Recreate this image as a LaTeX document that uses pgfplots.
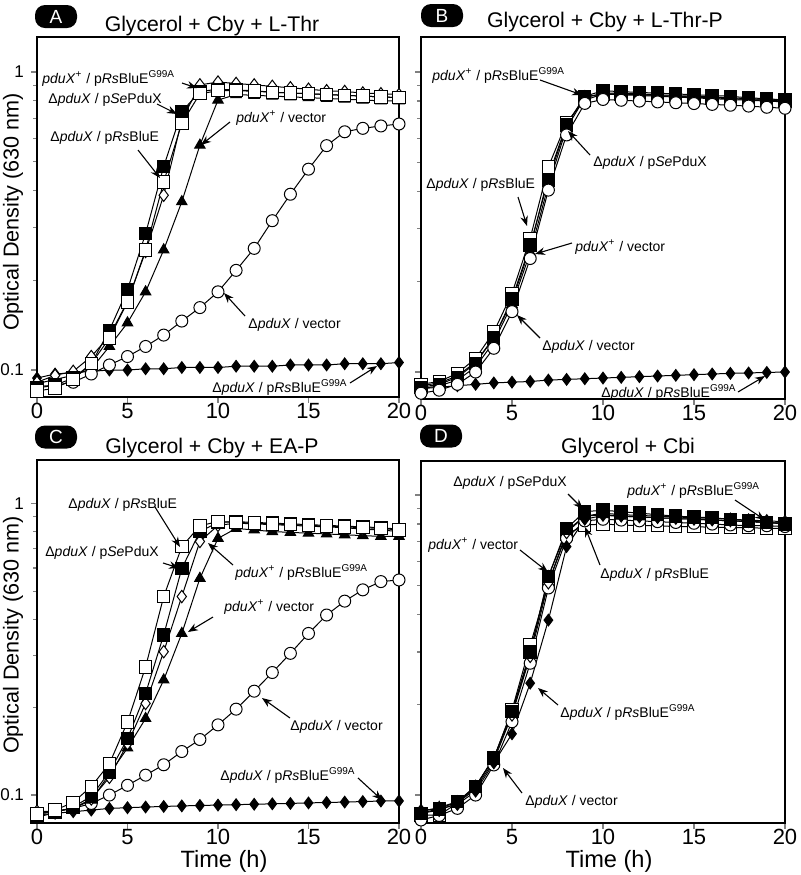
\documentclass[border=0pt]{standalone}
\usepackage{pgfplots}
\usepackage{pgfplotstable}
\pgfplotsset{compat=1.18}
\usepackage{fontspec}
\setmainfont{Liberation Sans}
\usetikzlibrary{arrows.meta}

\newcommand{\dX}{Δ\textit{pduX}}
\newcommand{\pX}{\textit{pduX}\textsuperscript{+}}
\newcommand{\Rs}{p\textit{Rs}BluE}
\newcommand{\RsG}{p\textit{Rs}BluE\textsuperscript{G99A}}
\newcommand{\Se}{p\textit{Se}PduX}

\pgfplotstableread{
t FD OC TR FS OS OD
0 0.094 0.088 0.090 0.087 0.085 0.091
1 0.097 0.089 0.093 0.089 0.087 0.096
2 0.098 0.091 0.096 0.094 0.093 0.099
3 0.099 0.097 0.101 0.105 0.105 0.111
4 0.100 0.104 0.120 0.136 0.128 0.130
5 0.100 0.111 0.144 0.186 0.169 0.170
6 0.101 0.120 0.183 0.287 0.253 0.250
7 0.101 0.131 0.253 0.482 0.428 0.386
8 0.102 0.146 0.367 0.736 0.673 0.690
9 0.102 0.162 0.568 0.860 0.845 0.905
10 0.102 0.183 0.805 0.875 0.865 0.925
11 0.103 0.216 0.840 0.870 0.865 0.915
12 0.103 0.256 0.835 0.865 0.862 0.905
13 0.103 0.317 0.830 0.855 0.855 0.895
14 0.104 0.389 0.825 0.850 0.850 0.885
15 0.104 0.472 0.820 0.845 0.845 0.875
16 0.104 0.566 0.815 0.840 0.840 0.865
17 0.105 0.630 0.810 0.835 0.835 0.860
18 0.105 0.647 0.805 0.830 0.830 0.850
19 0.105 0.659 0.800 0.825 0.825 0.845
20 0.106 0.669 0.800 0.820 0.820 0.840
}\tabA

\pgfplotstableread{
t FD OC TR FS OS OD
0 0.088 0.085 0.088 0.089 0.091 0.090
1 0.089 0.087 0.090 0.091 0.093 0.092
2 0.090 0.091 0.094 0.096 0.099 0.097
3 0.091 0.100 0.104 0.107 0.111 0.108
4 0.092 0.120 0.126 0.130 0.136 0.130
5 0.0925 0.159 0.168 0.175 0.183 0.172
6 0.093 0.239 0.250 0.265 0.279 0.260
7 0.094 0.404 0.420 0.437 0.483 0.450
8 0.0945 0.617 0.650 0.665 0.680 0.670
9 0.095 0.786 0.820 0.830 0.806 0.827
10 0.0955 0.810 0.850 0.866 0.845 0.845
11 0.096 0.805 0.850 0.860 0.845 0.840
12 0.0965 0.800 0.845 0.855 0.840 0.835
13 0.097 0.795 0.840 0.850 0.835 0.830
14 0.0975 0.790 0.835 0.845 0.830 0.825
15 0.098 0.785 0.830 0.840 0.825 0.820
16 0.0985 0.780 0.825 0.835 0.820 0.815
17 0.099 0.775 0.820 0.830 0.815 0.810
18 0.0993 0.770 0.815 0.820 0.810 0.805
19 0.0997 0.763 0.810 0.815 0.805 0.800
20 0.100 0.757 0.805 0.806 0.800 0.795
}\tabB

\pgfplotstableread{
t FD OC TR FS OS OD
0 0.0854 0.086 0.086 0.084 0.086 0.088
1 0.0866 0.088 0.088 0.087 0.0888 0.088
2 0.0877 0.090 0.090 0.091 0.0944 0.090
3 0.0888 0.0936 0.096 0.099 0.107 0.097
4 0.0900 0.100 0.118 0.120 0.128 0.115
5 0.0905 0.108 0.145 0.156 0.178 0.150
6 0.0910 0.117 0.183 0.223 0.275 0.206
7 0.0914 0.127 0.248 0.354 0.479 0.310
8 0.0918 0.141 0.358 0.598 0.710 0.479
9 0.0921 0.155 0.553 0.800 0.837 0.740
10 0.0924 0.174 0.758 0.860 0.866 0.840
11 0.0927 0.197 0.820 0.865 0.860 0.855
12 0.0930 0.227 0.810 0.860 0.855 0.850
13 0.0933 0.263 0.800 0.855 0.850 0.845
14 0.0936 0.306 0.795 0.850 0.845 0.840
15 0.0940 0.358 0.790 0.845 0.840 0.835
16 0.0943 0.414 0.785 0.840 0.835 0.830
17 0.0946 0.462 0.780 0.835 0.830 0.825
18 0.0950 0.505 0.775 0.830 0.825 0.815
19 0.0954 0.539 0.770 0.825 0.820 0.810
20 0.0955 0.546 0.770 0.815 0.810 0.800
}\tabC

\pgfplotstableread{
t FD OC TR FS OS OD
0 0.089 0.0826 0.088 0.087 0.0858 0.087
1 0.090 0.0855 0.091 0.090 0.0858 0.089
2 0.093 0.0903 0.095 0.095 0.094 0.094
3 0.103 0.100 0.107 0.107 0.1066 0.105
4 0.128 0.126 0.133 0.133 0.1324 0.130
5 0.160 0.1755 0.187 0.190 0.192 0.185
6 0.236 0.275 0.296 0.300 0.316 0.290
7 0.383 0.490 0.535 0.535 0.508 0.510
8 0.673 0.717 0.760 0.774 0.740 0.750
9 0.830 0.820 0.850 0.880 0.794 0.850
10 0.855 0.830 0.860 0.890 0.800 0.870
11 0.850 0.825 0.850 0.880 0.795 0.860
12 0.845 0.820 0.845 0.870 0.790 0.855
13 0.840 0.815 0.840 0.860 0.790 0.850
14 0.835 0.810 0.835 0.850 0.785 0.845
15 0.830 0.805 0.830 0.845 0.785 0.840
16 0.825 0.800 0.825 0.840 0.780 0.835
17 0.820 0.795 0.820 0.830 0.780 0.830
18 0.815 0.790 0.815 0.820 0.778 0.825
19 0.810 0.790 0.810 0.810 0.775 0.820
20 0.805 0.785 0.805 0.800 0.774 0.815
}\tabD

\pgfplotsset{
  every axis/.append style={
    scale only axis, xmin=0, xmax=20,
    xtick={0,5,10,15,20}, xticklabels={0,5,10,15,20},
    tick pos=left, tick align=outside,
    major tick length=3pt, minor tick length=2pt,
    axis line style={line width=0.9pt},
    every tick/.append style={line width=0.6pt},
    xticklabel style={font=\fontsize{11}{12}\selectfont, inner sep=0pt},
    yticklabel style={font=\fontsize{8.5}{10}\selectfont},
    clip=false,
  },
  sFD/.style={black, line width=0.5pt, mark=diamond*, mark size=2.9pt, mark options={fill=black, line width=0.5pt}},
  sOD/.style={black, line width=0.5pt, mark=diamond*, mark size=3.1pt, mark options={fill=white, line width=0.5pt}},
  sFS/.style={black, line width=0.5pt, mark=square*, mark size=3.1pt, mark options={fill=black, line width=0.5pt}},
  sOS/.style={black, line width=0.5pt, mark=square*, mark size=3.1pt, mark options={fill=white, line width=0.5pt}},
  sTR/.style={black, line width=0.5pt, mark=triangle*, mark size=3pt, mark options={fill=black, line width=0.5pt}},
  sOC/.style={black, line width=0.5pt, mark=*, mark size=3pt, mark options={fill=white, line width=0.5pt}},
}

\tikzset{
  arr/.style={-{Stealth[length=5pt,width=3.8pt]}, line width=0.55pt, black},
  lab/.style={font=\fontsize{7}{8}\selectfont, anchor=west, inner sep=0pt},
  ttl/.style={font=\fontsize{10.6}{12}\selectfont, anchor=base},
  badge/.style={fill=black, rounded corners=5pt, minimum width=21pt, minimum height=11.5pt, inner sep=0pt, text=white, font=\fontsize{9.5}{10}\selectfont},
  ylab/.style={font=\fontsize{10.8}{12}\selectfont, rotate=90},
  xlab/.style={font=\fontsize{11.8}{13}\selectfont, anchor=base, inner sep=0pt},
}

\begin{document}
\begin{tikzpicture}
\useasboundingbox (0,0) rectangle (400pt,-437.5pt);

% Panel A
\begin{axis}[ymode=log, ytick={0.1,1}, minor ytick={0.09,0.2,0.3,0.4,0.5,0.6,0.7,0.8,0.9},
  at={(18.5pt,-198.5pt)}, anchor=south west, width=181pt, height=180pt,
  ymin=0.0812, ymax=1.31, yticklabels={0.1,1}]
\addplot[sFD] table[x=t,y=FD]{\tabA};
\addplot[sTR] table[x=t,y=TR]{\tabA};
\addplot[sOC] table[x=t,y=OC]{\tabA};
\addplot[sOD] table[x=t,y=OD]{\tabA};
\addplot[sFS] table[x=t,y=FS]{\tabA};
\addplot[sOS] table[x=t,y=OS]{\tabA};
\end{axis}

% Panel B
\begin{axis}[ymode=log, ytick={0.1,1}, minor ytick={0.09,0.2,0.3,0.4,0.5,0.6,0.7,0.8,0.9},
  at={(210.5pt,-199.5pt)}, anchor=south west, width=182pt, height=181pt,
  ymin=0.0813, ymax=1.308, yticklabels={,}]
\addplot[sFD] table[x=t,y=FD]{\tabB};
\addplot[sOD] table[x=t,y=OD]{\tabB};
\addplot[sOS] table[x=t,y=OS]{\tabB};
\addplot[sTR] table[x=t,y=TR]{\tabB};
\addplot[sFS] table[x=t,y=FS]{\tabB};
\addplot[sOC] table[x=t,y=OC]{\tabB};
\end{axis}

% Panel C
\begin{axis}[ymode=log, ytick={0.1,1}, minor ytick={0.09,0.2,0.3,0.4,0.5,0.6,0.7,0.8,0.9},
  at={(18.5pt,-411.5pt)}, anchor=south west, width=181pt, height=181.5pt,
  ymin=0.0802, ymax=1.407, yticklabels={0.1,1}]
\addplot[sFD] table[x=t,y=FD]{\tabC};
\addplot[sOC] table[x=t,y=OC]{\tabC};
\addplot[sTR] table[x=t,y=TR]{\tabC};
\addplot[sOD] table[x=t,y=OD]{\tabC};
\addplot[sFS] table[x=t,y=FS]{\tabC};
\addplot[sOS] table[x=t,y=OS]{\tabC};
\end{axis}

% Panel D
\begin{axis}[ymode=log, ytick={0.1,1}, minor ytick={0.09,0.2,0.3,0.4,0.5,0.6,0.7,0.8,0.9},
  at={(210.5pt,-411.5pt)}, anchor=south west, width=182pt, height=181pt,
  ymin=0.0807, ymax=1.298, yticklabels={,}]
\addplot[sOS] table[x=t,y=OS]{\tabD};
\addplot[sOC] table[x=t,y=OC]{\tabD};
\addplot[sOD] table[x=t,y=OD]{\tabD};
\addplot[sFD] table[x=t,y=FD]{\tabD};
\addplot[sFS] table[x=t,y=FS]{\tabD};
\addplot[sTR] table[x=t,y=TR]{\tabD};
\end{axis}

\begin{scope}[x=0.5pt,y=-0.5pt]
% badges and titles
\node[badge] at (56,16.5) {A};
\node[badge] at (442,15.5) {B};
\node[badge] at (56,437) {C};
\node[badge] at (441,436) {D};
\node[ttl] at (212,31) {Glycerol + Cby + L-Thr};
\node[ttl] at (605,27) {Glycerol + Cby + L-Thr-P};
\node[ttl] at (212,453) {Glycerol + Cby + EA-P};
\node[ttl] at (628,453) {Glycerol + Cbi};
\node[ylab] at (13,212) {Optical Density (630 nm)};
\node[ylab] at (13,635) {Optical Density (630 nm)};
\node[xlab] at (224,867) {Time (h)};
\node[xlab] at (609,867) {Time (h)};

% Panel A labels
\node[lab] at (42,78) {\pX\ / \RsG};
\draw[arr] (182,83) -- (197,88);
\node[lab] at (48,100) {\dX\ / \Se};
\draw[arr] (157,104) -- (177,114);
\node[lab] at (50,138) {\dX\ / \Rs};
\draw[arr] (138,150) -- (160,178);
\node[lab] at (236,118) {\pX\ / vector};
\draw[arr] (230,122) -- (201,145);
\node[lab] at (248,325) {\dX\ / vector};
\draw[arr] (245,316) -- (224,293);
\node[lab] at (212,387) {\dX\ / \RsG};
\draw[arr] (350,383) -- (377,366);

% Panel B labels
\node[lab] at (432,75) {\pX\ / \RsG};
\draw[arr] (540,80) -- (582,95);
\node[lab] at (593,163) {\dX\ / \Se};
\draw[arr] (590,155) -- (568,131);
\node[lab] at (426,185) {\dX\ / \Rs};
\draw[arr] (518,197) -- (527,226);
\node[lab] at (575,247) {\pX\ / vector};
\draw[arr] (572,243) -- (535,254);
\node[lab] at (542,347) {\dX\ / vector};
\draw[arr] (540,338) -- (517,315);
\node[lab] at (601,392) {\dX\ / \RsG};
\draw[arr] (738,392) -- (765,376);

% Panel C labels
\node[lab] at (68,505) {\dX\ / \Rs};
\draw[arr] (155,507) -- (180,547);
\node[lab] at (45,553) {\dX\ / \Se};
\draw[arr] (163,563) -- (179,568);
\node[lab] at (235,572) {\pX\ / \RsG};
\draw[arr] (233,565) -- (208,543);
\node[lab] at (224,607) {\pX\ / vector};
\draw[arr] (213,617) -- (188,632);
\node[lab] at (290,727) {\dX\ / vector};
\draw[arr] (290,718) -- (262,698);
\node[lab] at (220,775) {\dX\ / \RsG};
\draw[arr] (358,778) -- (382,800);

% Panel D labels
\node[lab] at (453,483) {\dX\ / \Se};
\draw[arr] (568,494) -- (583,509);
\node[lab] at (627,490) {\pX\ / \RsG};
\draw[arr] (735,500) -- (765,520);
\node[lab] at (428,545) {\pX\ / vector};
\draw[arr] (520,550) -- (548,572);
\node[lab] at (600,575) {\dX\ / \Rs};
\draw[arr] (600,565) -- (585,527);
\node[lab] at (560,712) {\dX\ / \RsG};
\draw[arr] (558,705) -- (538,688);
\node[lab] at (525,802) {\dX\ / vector};
\draw[arr] (522,793) -- (503,768);
\end{scope}
\end{tikzpicture}
\end{document}
